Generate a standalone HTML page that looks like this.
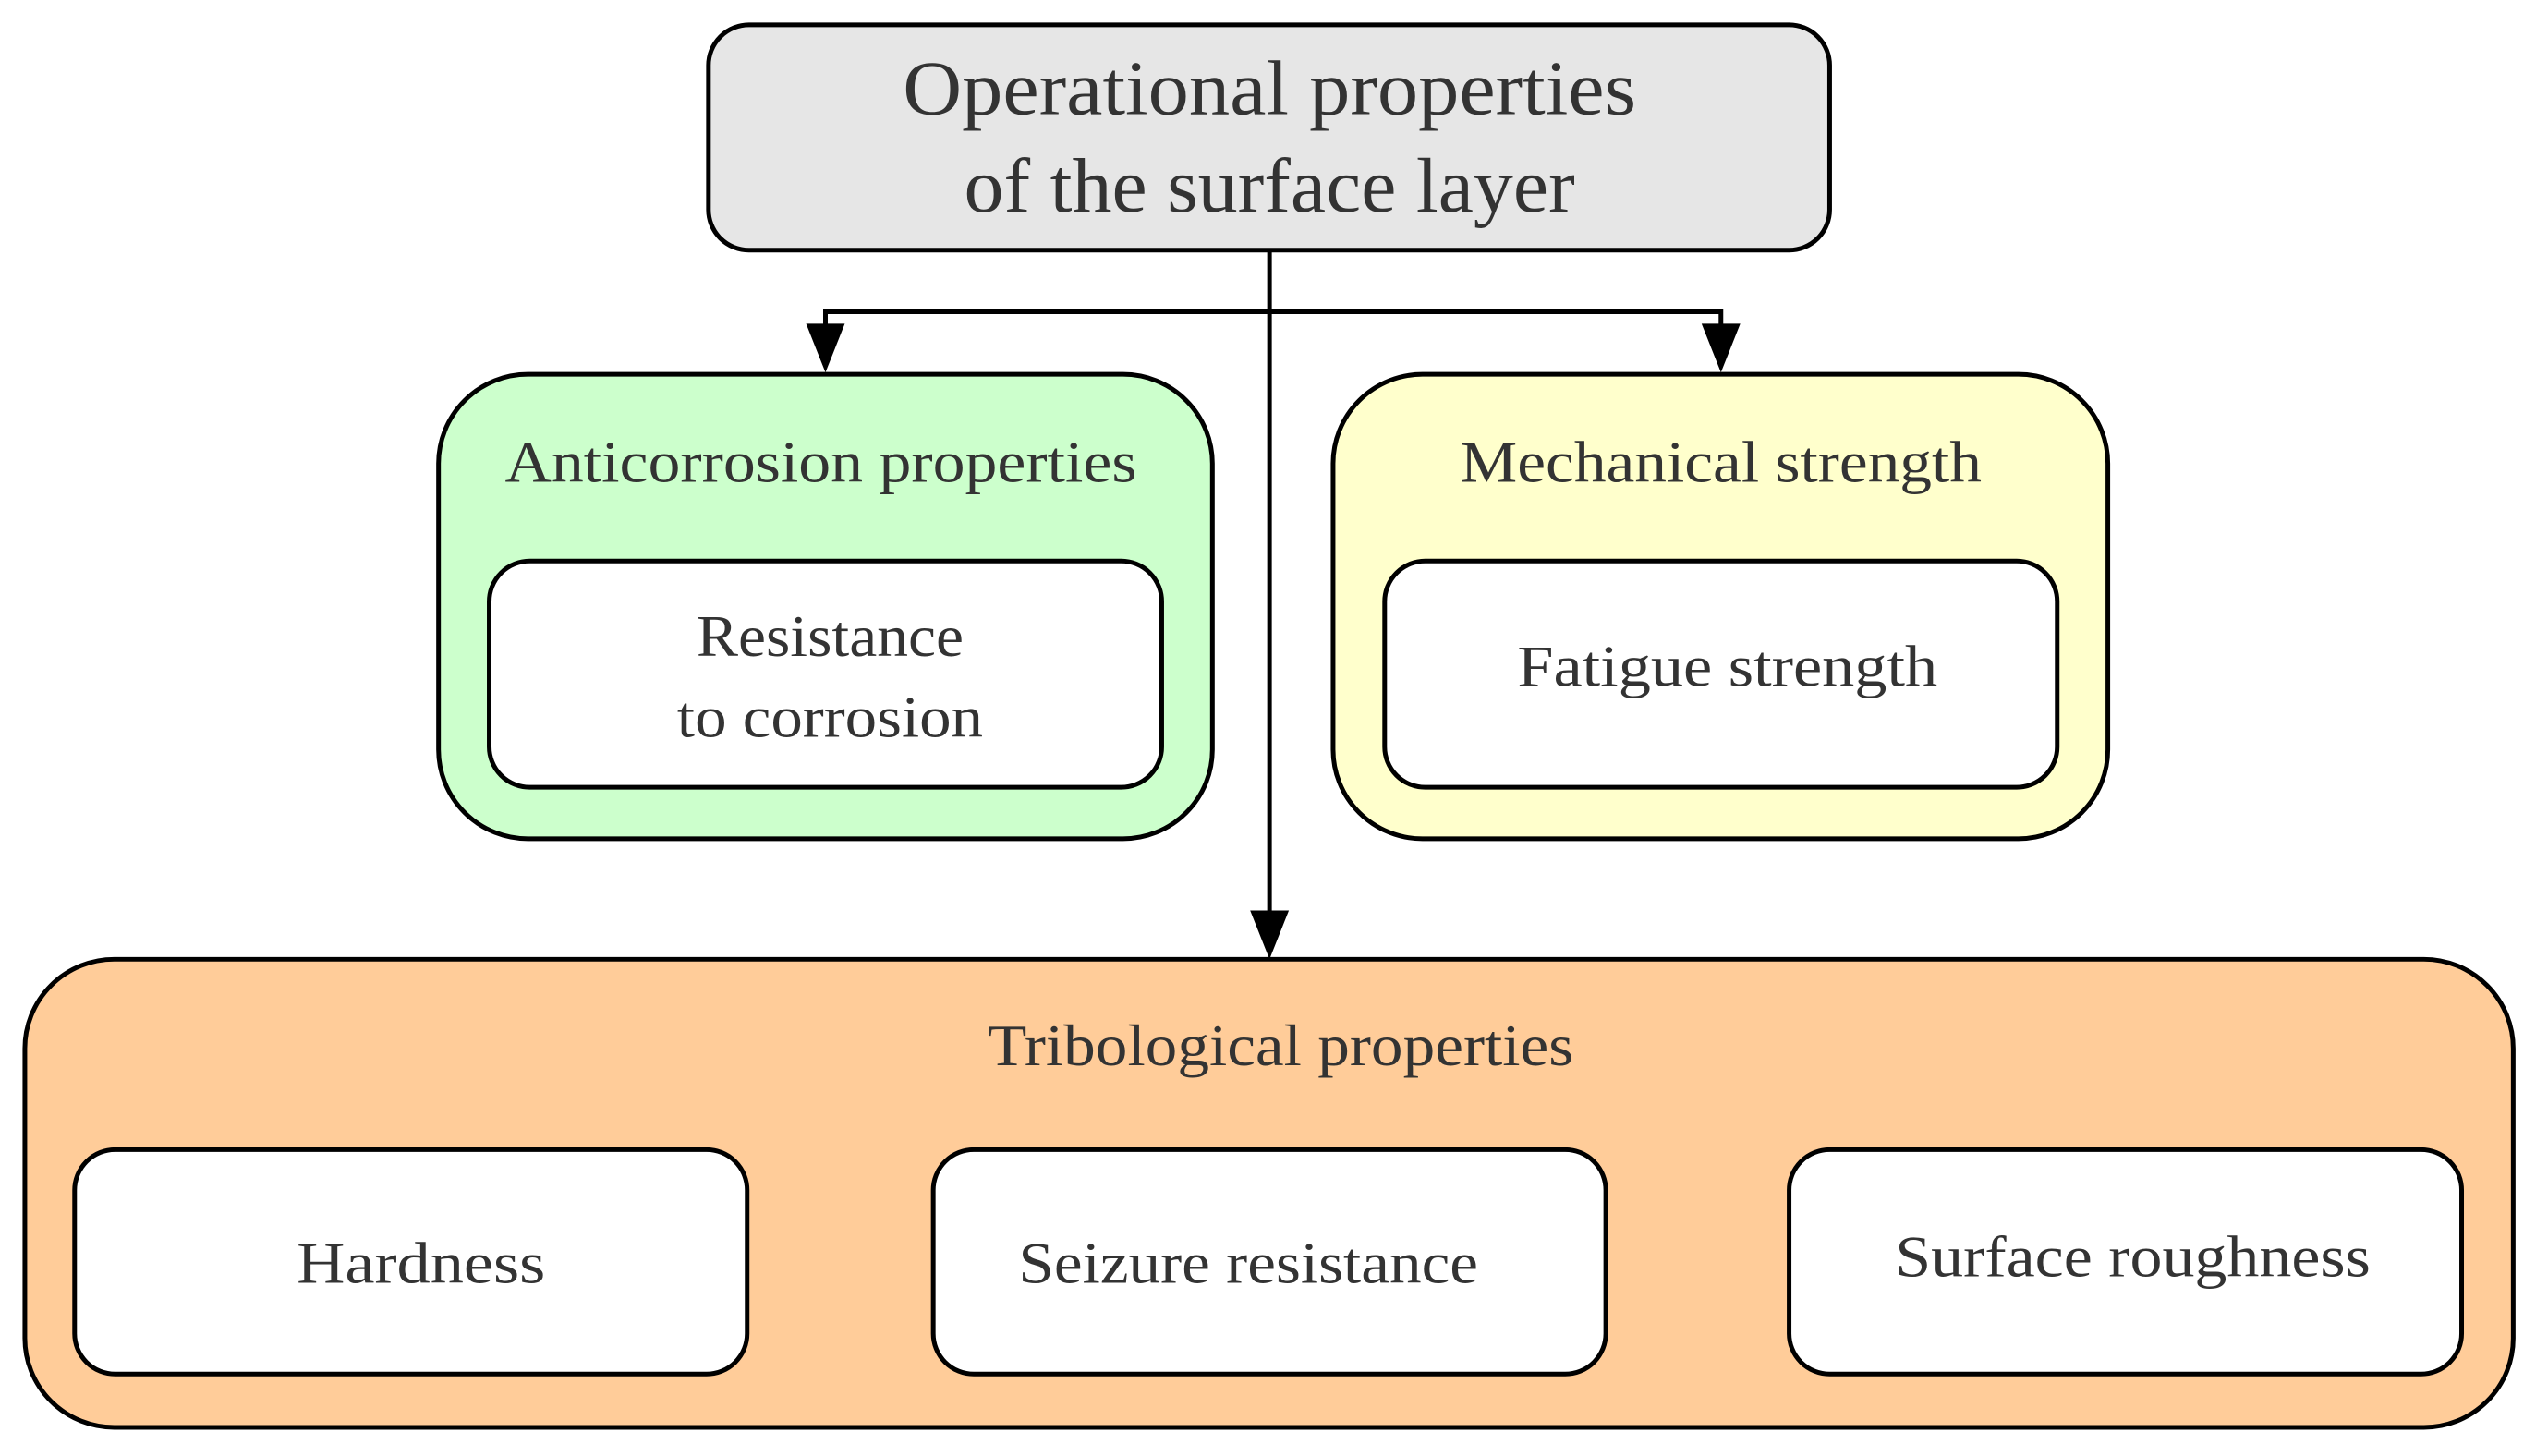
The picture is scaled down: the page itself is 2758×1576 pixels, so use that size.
<!DOCTYPE html>
<html><head><meta charset="utf-8"><style>
html,body{margin:0;padding:0;background:#fff;}
svg{display:block;}
text{font-family:"Liberation Serif",serif;fill:#333;text-anchor:middle;}
</style></head><body>
<svg width="2758" height="1576" viewBox="0 0 2758 1576" xmlns="http://www.w3.org/2000/svg">
<g transform="scale(0.9972 0.9955)">
<g stroke="#000" stroke-width="5">
<rect x="769" y="27" width="1217" height="245" rx="44" fill="#e6e6e6"/>
<rect x="476" y="407" width="840" height="505" rx="97" fill="#ccffcc"/>
<rect x="531" y="610" width="730" height="246" rx="44" fill="#fff"/>
<rect x="1447" y="407" width="841" height="505" rx="97" fill="#ffffcc"/>
<rect x="1503" y="610" width="730" height="246" rx="44" fill="#fff"/>
<rect x="27" y="1043" width="2701" height="509" rx="97" fill="#ffcc99"/>
<rect x="81" y="1250" width="730" height="244" rx="44" fill="#fff"/>
<rect x="1013" y="1250" width="730" height="244" rx="44" fill="#fff"/>
<rect x="1942" y="1250" width="730" height="244" rx="44" fill="#fff"/>
<path d="M1378 272 V1000 M896 360 V339 H1868 V360" fill="none"/>
</g>
<g fill="#000">
<path d="M875 352 L917 352 L896 405 Z"/>
<path d="M1847 352 L1889 352 L1868 405 Z"/>
<path d="M1357 990 L1399 990 L1378 1043 Z"/>
</g>
<text x="1378" y="124" font-size="84" textLength="796" lengthAdjust="spacingAndGlyphs">Operational properties</text>
<text x="1378" y="230" font-size="84" textLength="663" lengthAdjust="spacingAndGlyphs">of the surface layer</text>
<text x="891" y="524" font-size="64" textLength="686" lengthAdjust="spacingAndGlyphs">Anticorrosion properties</text>
<text x="901" y="713" font-size="64" textLength="290" lengthAdjust="spacingAndGlyphs">Resistance</text>
<text x="901" y="801" font-size="64" textLength="332" lengthAdjust="spacingAndGlyphs">to corrosion</text>
<text x="1868" y="524" font-size="64" textLength="566" lengthAdjust="spacingAndGlyphs">Mechanical strength</text>
<text x="1875" y="746" font-size="64" textLength="456" lengthAdjust="spacingAndGlyphs">Fatigue strength</text>
<text x="1390" y="1158" font-size="64" textLength="636" lengthAdjust="spacingAndGlyphs">Tribological properties</text>
<text x="457" y="1395" font-size="64" textLength="270" lengthAdjust="spacingAndGlyphs">Hardness</text>
<text x="1355" y="1395" font-size="64" textLength="499" lengthAdjust="spacingAndGlyphs">Seizure resistance</text>
<text x="2315" y="1388" font-size="64" textLength="516" lengthAdjust="spacingAndGlyphs">Surface roughness</text>
</g>
</svg>
</body></html>
